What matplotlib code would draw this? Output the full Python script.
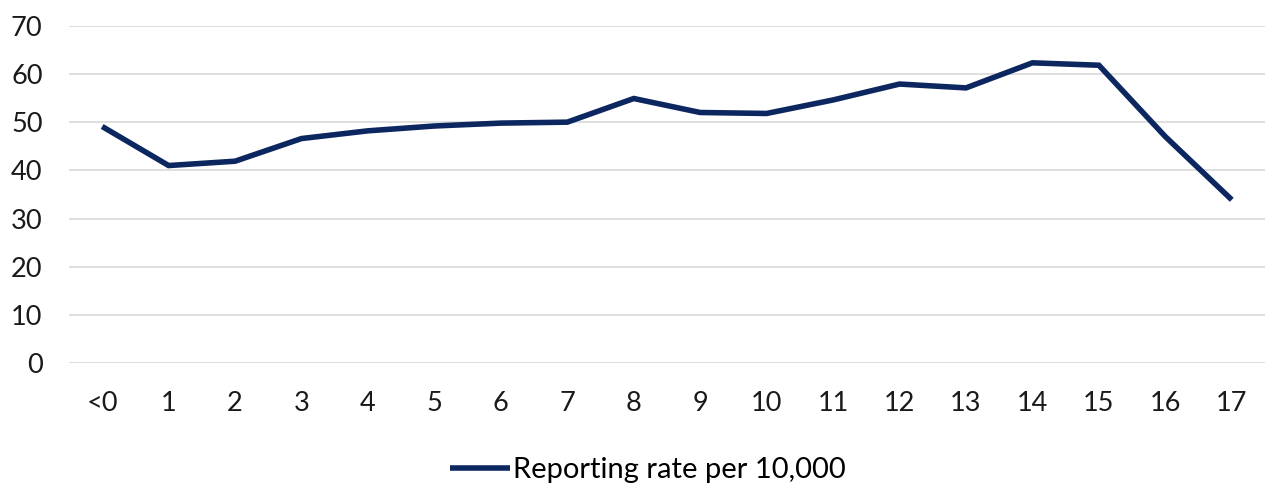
import matplotlib
matplotlib.use('Agg')
import matplotlib.pyplot as plt

ages = ['<0', '1', '2', '3', '4', '5', '6', '7', '8', '9',
        '10', '11', '12', '13', '14', '15', '16', '17']
rate = [49.1, 41.0, 41.9, 46.6, 48.2, 49.2, 49.8, 50.0, 54.9, 52.0,
        51.8, 54.6, 57.9, 57.1, 62.3, 61.8, 47.0, 33.9]
y_ticks = [0, 10, 20, 30, 40, 50, 60, 70]

plt.rcParams['font.family'] = ['Lato', 'DejaVu Sans']
navy = '#0c2660'

fig = plt.figure(figsize=(12.72, 4.93), dpi=100)
ax = fig.add_axes([0.0542, 0.2631, 0.9403, 0.6848])

x = list(range(len(ages)))
line, = ax.plot(x, rate, color=navy, lw=4.0, solid_joinstyle='miter',
                solid_capstyle='butt', label='Reporting rate per 10,000')

ax.set_xlim(-0.5, len(ages) - 0.5)
ax.set_ylim(0, 70)
ax.set_yticks(y_ticks)
ax.set_xticks(x)
ax.set_xticklabels(ages)
ax.yaxis.grid(True, color='#d9d9d9', lw=1.2)
ax.set_axisbelow(True)
for s in ax.spines.values():
    s.set_visible(False)
ax.tick_params(axis='both', length=0, labelsize=19.5, colors='#1a1a1a')
ax.tick_params(axis='y', pad=19)
ax.tick_params(axis='x', pad=20)

fig.legend(handles=[line], loc='center', bbox_to_anchor=(648 / 1272, 1 - 470 / 493),
           frameon=False, fontsize=21, handlelength=2.05, handletextpad=0.12)

fig.savefig('out.png', dpi=100)
